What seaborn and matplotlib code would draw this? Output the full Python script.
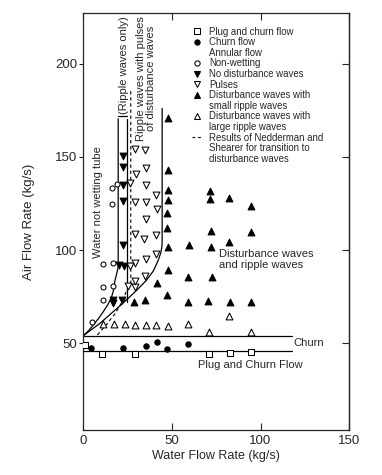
import matplotlib
matplotlib.use("Agg")
import matplotlib.pyplot as plt
from matplotlib.lines import Line2D
import seaborn as sns

# ---------------- data ----------------
plug_x = [1.0, 10.7, 29.3, 70.7, 82.9, 94.9]
plug_y = [49.0, 44.1, 44.1, 44.3, 45.0, 45.5]

churn_x = [4.3, 22.6, 35.2, 41.7, 47.2, 59.0]
churn_y = [47.5, 47.7, 48.8, 50.5, 47.1, 49.6]

nonwet_x = [4.7, 10.9, 10.9, 10.9, 16.9, 16.9, 16.0, 16.0, 19.2]
nonwet_y = [61.3, 73.4, 80.4, 92.7, 80.9, 93.0, 125.0, 133.4, 135.5]

nodist_x = [22.6, 22.6, 22.2, 22.6, 22.2, 19.9, 23.1, 16.9, 16.9, 22.0]
nodist_y = [150.5, 144.6, 135.2, 126.3, 102.7, 92.0, 91.6, 73.2, 71.4, 73.2]

pulse_x = [29.1, 34.8, 29.7, 35.3, 26.1, 35.3, 41.0, 29.1, 35.3, 41.4, 35.3,
           29.1, 34.4, 41.0, 41.0, 29.1, 26.3, 35.3, 25.4, 29.1, 29.1, 34.8]
pulse_y = [154.3, 153.6, 141.0, 144.0, 136.0, 135.2, 129.8, 125.7, 125.7, 122.3, 116.6,
           108.4, 105.9, 108.0, 98.2, 92.9, 91.4, 95.0, 80.7, 80.4, 83.4, 86.1]

dsmall_x = [47.6, 47.6, 47.6, 47.6, 47.2, 47.2, 47.6, 47.6, 41.7, 47.2, 28.8, 34.8,
            59.8, 59.0, 59.0, 71.6, 71.6, 72.2, 72.2, 72.6, 70.5,
            82.3, 82.3, 82.7, 94.9, 94.5, 94.9]
dsmall_y = [171.0, 143.2, 132.5, 126.8, 120.2, 112.0, 101.6, 89.6, 82.5, 75.7, 72.1, 73.2,
            103.0, 85.4, 72.1, 131.8, 127.3, 110.4, 101.8, 85.4, 72.5,
            127.9, 104.5, 72.3, 123.6, 109.5, 72.3]

dlarge_x = [11.3, 17.3, 23.3, 29.3, 35.2, 40.8, 47.6, 59.2, 82.0, 70.7, 94.4]
dlarge_y = [60.4, 60.4, 60.4, 59.8, 59.8, 59.8, 59.5, 60.2, 64.8, 55.9, 55.9]

# boundary curves
nonwet_bound_x = [0.0, 3.0, 5.6, 8.5, 11.3, 14.0, 16.0, 17.2, 17.9, 18.9, 19.7, 19.7]
nonwet_bound_y = [54.1, 56.8, 59.8, 63.2, 67.0, 71.0, 75.0, 79.0, 83.9, 87.5, 91.0, 170.5]

ripple_only_x = [24.5, 24.5]
ripple_only_y = [72.3, 170.5]
ripple_cap_x = [19.7, 24.5]
ripple_cap_y = [171.8, 171.8]

pulse_bound_x = [0.0, 4.5, 9.4, 13.0, 16.9, 21.5, 26.3, 31.0, 35.7, 39.5, 42.3, 43.7, 44.3, 44.5, 44.5]
pulse_bound_y = [54.1, 57.3, 60.7, 63.7, 67.0, 70.8, 75.0, 79.3, 83.9, 88.8, 94.6, 98.5, 101.5, 104.0, 176.0]

ned_x = [8.0, 13.0, 18.0, 22.0, 25.4, 26.8, 26.8]
ned_y = [54.5, 60.0, 66.0, 72.5, 80.4, 83.0, 186.5]

churn_line_x = [0.0, 118.0]
churn_line_y = [54.1, 54.1]
plug_line_x = [0.0, 118.0]
plug_line_y = [45.7, 45.7]

x_ticks = [0, 50, 100, 150]
y_ticks = [50, 100, 150, 200]

# ---------------- style ----------------
sns.set_style("ticks")
plt.rcParams["font.family"] = ["Liberation Sans", "DejaVu Sans"]
plt.rcParams["axes.linewidth"] = 0.9

fig = plt.figure(figsize=(3.82, 4.75), dpi=100)
ax = fig.add_axes([0.218, 0.0947, 0.696, 0.877])

K = "black"
LW = 0.9
ax.plot(nonwet_bound_x, nonwet_bound_y, color=K, lw=LW)
ax.plot(ripple_only_x, ripple_only_y, color=K, lw=LW)
ax.plot(ripple_cap_x, ripple_cap_y, color=K, lw=LW)
ax.plot(pulse_bound_x, pulse_bound_y, color=K, lw=LW)
ax.plot(ned_x, ned_y, color=K, lw=0.8, ls=(0, (3, 2.5)))
ax.plot(churn_line_x, churn_line_y, color=K, lw=LW)
ax.plot(plug_line_x, plug_line_y, color=K, lw=LW)

mlw = 0.75
sns.scatterplot(x=plug_x, y=plug_y, marker="s", s=13, facecolor="white",
                edgecolor=K, linewidth=mlw, ax=ax, zorder=3)
sns.scatterplot(x=churn_x, y=churn_y, marker="o", s=15, color=K,
                edgecolor=K, linewidth=mlw, ax=ax, zorder=3)
sns.scatterplot(x=nonwet_x, y=nonwet_y, marker="o", s=13, facecolor="white",
                edgecolor=K, linewidth=mlw, ax=ax, zorder=3)
sns.scatterplot(x=nodist_x, y=nodist_y, marker="v", s=24, color=K,
                edgecolor=K, linewidth=mlw, ax=ax, zorder=3)
sns.scatterplot(x=pulse_x, y=pulse_y, marker="v", s=24, facecolor="white",
                edgecolor=K, linewidth=mlw, ax=ax, zorder=3)
sns.scatterplot(x=dsmall_x, y=dsmall_y, marker="^", s=24, color=K,
                edgecolor=K, linewidth=mlw, ax=ax, zorder=3)
sns.scatterplot(x=dlarge_x, y=dlarge_y, marker="^", s=24, facecolor="white",
                edgecolor=K, linewidth=mlw, ax=ax, zorder=3)

ax.set_xlim(0, 150)
ax.set_ylim(3.5, 227)
ax.set_xticks(x_ticks)
ax.set_yticks(y_ticks)
ax.tick_params(axis="x", direction="in", top=True, length=5, width=0.8,
               pad=3.5, labelsize=9.5)
ax.tick_params(axis="y", direction="out", length=3, width=0.8, pad=1.5,
               labelsize=9.5)
sec = ax.secondary_yaxis("right")
sec.set_yticks(y_ticks)
sec.tick_params(direction="in", length=5, width=0.8, labelright=False)
sec.spines["right"].set_linewidth(0.9)

ax.set_xlabel("Water Flow Rate (kg/s)", fontsize=9, labelpad=2)
ax.set_ylabel("Air Flow Rate (kg/s)", fontsize=9.5, labelpad=14)

# region annotations
fs = 8
ax.text(8.1, 126, "Water not wetting tube", rotation=90, ha="center",
        va="center", fontsize=fs)
ax.text(22.8, 199.5, "(Ripple waves only)", rotation=90, ha="center",
        va="center", fontsize=fs)
ax.text(35.6, 192, "Ripple waves with pulses\nof disturbance waves", rotation=90,
        ha="center", va="center", multialignment="center", fontsize=fs,
        linespacing=1.0)
ax.text(76.7, 95, "Disturbance waves\nand ripple waves", ha="left", va="center",
        fontsize=fs, linespacing=1.05)
ax.text(118.6, 50, "Churn", ha="left", va="center", fontsize=fs)
ax.text(64.8, 38.4, "Plug and Churn Flow", ha="left", va="center", fontsize=fs)

# legend
def mk(marker, filled):
    return Line2D([], [], linestyle="none", marker=marker,
                  markersize=3.8 if marker in "os" else 4.6,
                  markerfacecolor=K if filled else "white", markeredgecolor=K,
                  markeredgewidth=mlw)

blank = Line2D([], [], linestyle="none")
handles = [mk("s", False), mk("o", True), blank, mk("o", False), mk("v", True),
           mk("v", False), mk("^", True), blank, mk("^", False), blank,
           Line2D([], [], color=K, lw=0.8, ls=(0, (2.5, 2.5))), blank, blank]
labels = ["Plug and churn flow", "Churn flow", "Annular flow", "Non-wetting",
          "No disturbance waves", "Pulses", "Disturbance waves with",
          "small ripple waves", "Disturbance waves with", "large ripple waves",
          "Results of Nedderman and", "Shearer for transition to",
          "disturbance waves"]
leg = ax.legend(handles, labels, loc="upper left", bbox_to_anchor=(0.408, 0.968),
                frameon=False, fontsize=6.9, borderpad=0, borderaxespad=0,
                handlelength=1.1, handletextpad=0.7, labelspacing=0.06)

fig.savefig("out.png", dpi=100)
